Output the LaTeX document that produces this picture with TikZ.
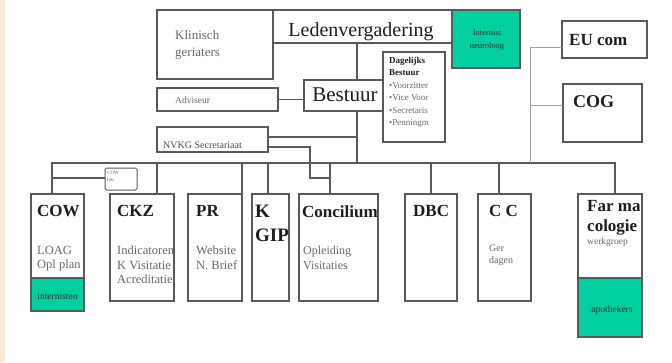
\documentclass[tikz,border=0pt]{standalone}
\usepackage{fontspec}
\setmainfont{Liberation Serif}
\usetikzlibrary{calc}
\definecolor{tgreen}{RGB}{0,207,160}
\definecolor{bline}{RGB}{90,90,90}
\definecolor{txtgray}{RGB}{105,105,105}
\definecolor{beige}{RGB}{250,235,221}
\definecolor{darktxt}{RGB}{30,30,30}
\begin{document}
\begin{tikzpicture}[x=1pt,y=-1pt,
  box/.style={draw=bline,line width=1.4pt,inner sep=0pt,outer sep=0pt,anchor=north west},
  gbox/.style={box,fill=tgreen},
  conn/.style={draw=bline,line width=1.6pt},
  thinconn/.style={draw=gray!75,line width=1pt},
  head/.style={anchor=north west,inner sep=0pt,font=\fontsize{17}{20}\selectfont\bfseries,text=darktxt,align=left},
  sub/.style={anchor=north west,inner sep=0pt,font=\fontsize{12.5}{14.5}\selectfont,text=txtgray,align=left},
  small/.style={inner sep=0pt,font=\fontsize{9.5}{11}\selectfont,text=txtgray,align=left},
  gtxt/.style={inner sep=0pt,font=\fontsize{9.5}{12}\selectfont,text=black!80,align=center},
]
\useasboundingbox (0,0) rectangle (672,362);
\fill[white] (0,0) rectangle (672,362);
\fill[beige] (0,0) rectangle (5,362);

% top boxes
\node[box,minimum width=116pt,minimum height=69pt] (klin) at (157,10) {};
\node[box,minimum width=179pt,minimum height=33pt] (led) at (273,10) {};
\node[gbox,minimum width=68pt,minimum height=58pt] (intn) at (452,10) {};
\node[box,minimum width=79pt,minimum height=31pt] (bes) at (304,80) {};
\node[box,minimum width=62pt,minimum height=90pt] (dag) at (383,52) {};
\node[box,minimum width=121pt,minimum height=23pt] (adv) at (157,88) {};
\node[box,minimum width=111pt,minimum height=25pt] (nvkg) at (157,127) {};
\node[box,minimum width=85pt,minimum height=37pt] (eu) at (562,21) {};
\node[box,minimum width=79pt,minimum height=58pt] (cog) at (563,84) {};
\node[box,line width=1pt,minimum width=32pt,minimum height=22pt,rounded corners=1.5pt] (cows) at (105,168) {};

% bottom boxes
\node[box,minimum width=53pt,minimum height=84pt] (cow) at (31,194) {};
\node[gbox,minimum width=53pt,minimum height=33pt] (cowg) at (31,278) {};
\node[box,minimum width=64pt,minimum height=107pt] (ckz) at (110,194) {};
\node[box,minimum width=54pt,minimum height=107pt] (pr) at (188,194) {};
\node[box,minimum width=37pt,minimum height=107pt] (kgip) at (252,194) {};
\node[box,minimum width=79pt,minimum height=107pt] (conc) at (299,194) {};
\node[box,minimum width=52pt,minimum height=107pt] (dbc) at (405,194) {};
\node[box,minimum width=53pt,minimum height=107pt] (cc) at (478,194) {};
\node[box,minimum width=64pt,minimum height=84pt] (farm) at (578,194) {};
\node[gbox,minimum width=64pt,minimum height=59pt] (farmg) at (578,278) {};

% texts top
\node[anchor=north west,inner sep=0pt,font=\fontsize{13}{17}\selectfont,text=txtgray,align=left] (klinT) at (175,30) {Klinisch\\geriaters};
\node[anchor=base,inner sep=0pt,font=\fontsize{20}{24}\selectfont,text=darktxt] (ledT) at (361,36) {Ledenvergadering};
\node[gtxt,font=\fontsize{8.5}{13}\selectfont] (intT) at (487,40) {Internist\\neuroloog};
\node[anchor=base,inner sep=0pt,font=\fontsize{21}{24}\selectfont,text=darktxt] (besT) at (345,101) {Bestuur};
\node[anchor=north west,inner sep=0pt,font=\fontsize{9}{12.4}\selectfont,text=txtgray,align=left] (dagT) at (389,57)
  {\textcolor{darktxt}{\bfseries Dagelijks}\\\textcolor{darktxt}{\bfseries Bestuur}\\•Voorzitter\\•Vice Voor\\•Secretaris\\•Penningm};
\node[small,anchor=west] (advT) at (175,100) {Adviseur};
\node[small,anchor=west,font=\fontsize{10}{12}\selectfont,text=black!70] (nvkgT) at (163,145) {NVKG Secretariaat};
\node[head,font=\fontsize{17}{20}\selectfont\bfseries] (euT) at (569,34) {EU com};
\node[head,font=\fontsize{18}{20}\selectfont\bfseries] (cogT) at (573,95) {COG};
\node[anchor=north west,inner sep=0pt,font=\fontsize{5}{6.5}\selectfont,text=txtgray,align=left] (cowsT) at (107,171) {COW\\lms};

% texts bottom
\node[head] (cowH) at (37,205) {COW};
\node[sub] (cowS) at (37,246) {LOAG\\Opl plan};
\node[gtxt] (cowG) at (57.5,296) {internisten};
\node[head] (ckzH) at (117,205) {CKZ};
\node[sub] (ckzS) at (117,246) {Indicatoren\\K Visitatie\\Acreditatie};
\node[head] (prH) at (196,205) {PR};
\node[sub] (prS) at (196,246) {Website\\N. Brief};
\node[head,font=\fontsize{19}{24}\selectfont\bfseries] (kgipH) at (255,205) {K\\GIP};
\node[head] (concH) at (302,205) {Concilium};
\node[sub,font=\fontsize{12}{15}\selectfont] (concS) at (303,246) {Opleiding\\Visitaties};
\node[head] (dbcH) at (413,205) {DBC};
\node[head] (ccH) at (489,205) {C C};
\node[sub,font=\fontsize{10}{12}\selectfont] (ccS) at (489,245) {Ger\\dagen};
\node[head,font=\fontsize{17}{20}\selectfont\bfseries] (farmH) at (587,200) {Far ma\\cologie};
\node[sub,font=\fontsize{9.5}{11}\selectfont] (farmS) at (587,238) {werkgroep};
\node[gtxt] (farmG) at (612,310) {apothekers};

% connectors
\coordinate (busL) at (52,163);
\coordinate (busR) at (615,163);
\coordinate (bckz) at (157,163);
\coordinate (bpr) at (242,163);
\coordinate (bkg) at (268,163);
\coordinate (bco) at (330,163);
\coordinate (bdbc) at (431,163);
\coordinate (bcc) at (499,163);
\coordinate (beu) at (530,163);
\coordinate (bbes) at (357,163);
\draw[conn] (cow.north -| busL) -- (busL) -- (busR) -- (farm.north -| busR);
\draw[conn] (bckz) -- (bckz |- ckz.north);
\draw[conn] (bpr) -- (bpr |- pr.north);
\draw[conn] (bkg) -- (bkg |- kgip.north);
\draw[conn] (bco) -- (bco |- conc.north);
\draw[conn] (bdbc) -- (bdbc |- dbc.north);
\draw[conn] (bcc) -- (bcc |- cc.north);
\draw[conn] (led.south -| bbes) -- (bes.north -| bbes);
\draw[conn] (bes.south -| bbes) -- (bbes);
\draw[conn] (adv.east) -- (adv.east -| bes.west);
\coordinate (nvA) at (357,137);
\draw[conn,line width=1.2pt] (nvA -| nvkg.east) -- (nvA);
\coordinate (nvB) at (310,147);
\coordinate (nvC) at (330,178);
\draw[conn,line width=1.2pt] (nvB -| nvkg.east) -- (nvB) -- (nvB |- nvC) -- (nvC);
\coordinate (cs) at (52,178);
\draw[conn,line width=1.2pt] (cs) -- (cs -| cows.west);
\coordinate (eu1) at (530,47);
\coordinate (eu2) at (530,105);
\draw[thinconn] (beu) -- (eu1) -- (eu1 -| eu.west);
\draw[thinconn] (eu2) -- (eu2 -| cog.west);
\end{tikzpicture}
\end{document}
